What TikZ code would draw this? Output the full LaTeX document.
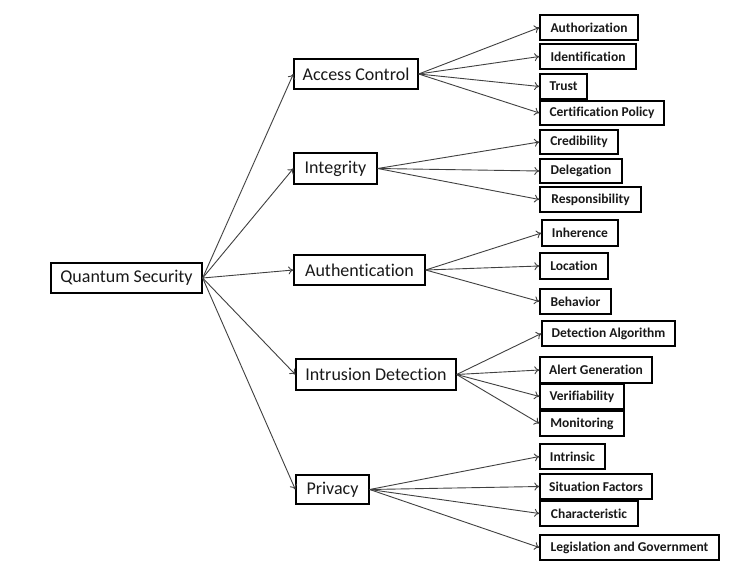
\documentclass[tikz,border=0pt]{standalone}
\usepackage{fontspec}
\setmainfont{Carlito}[Ligatures=NoCommon]
\usetikzlibrary{arrows.meta}
\begin{document}
\begin{tikzpicture}[x=1pt,y=-1pt,
  box/.style={draw=black,line width=1.3pt,rectangle,inner sep=0pt,font=\fontsize{18}{20}\selectfont,text=black!90},
  leaf/.style={draw=black,line width=1.3pt,rectangle,inner sep=0pt,minimum height=25pt,font=\bfseries\fontsize{13.5}{15}\selectfont,text=black!90},
  conn/.style={draw=black!75,line width=0.9pt,-{To[length=5pt,width=8pt]}}]
\useasboundingbox[fill=white] (0,0) rectangle (750,583);
% root
\node[box,minimum width=151pt,minimum height=30pt] (qs) at (126.5,278) {Quantum Security};
% level 1
\node[box,minimum width=124pt,minimum height=30pt] (ac) at (356,74) {Access Control};
\node[box,minimum width=83pt,minimum height=31pt] (in) at (335.5,168.5) {Integrity};
\node[box,minimum width=131pt,minimum height=30pt] (au) at (359.5,270) {Authentication};
\node[box,minimum width=160pt,minimum height=31pt] (id) at (376,374.5) {Intrusion Detection};
\node[box,minimum width=73pt,minimum height=29pt] (pr) at (332.5,489.5) {Privacy};
% leaves
\node[leaf,minimum width=98pt] (l1) at (589,27.5) {Authorization};
\node[leaf,minimum width=96pt] (l2) at (588,56.5) {Identification};
\node[leaf,minimum width=47pt] (l3) at (563.5,86.5) {Trust};
\node[leaf,minimum width=124pt,minimum height=24pt] (l4) at (602,113) {Certification Policy};
\node[leaf,minimum width=78pt,minimum height=24pt] (l5) at (579,142) {Credibility};
\node[leaf,minimum width=82pt,minimum height=24pt] (l6) at (581,171) {Delegation};
\node[leaf,minimum width=101pt] (l7) at (590.5,199.5) {Responsibility};
\node[leaf,minimum width=76pt,minimum height=26pt] (l8) at (580,233) {Inherence};
\node[leaf,minimum width=68pt,minimum height=26pt] (l9) at (574,266) {Location};
\node[leaf,minimum width=71pt] (l10) at (575.5,301.5) {Behavior};
\node[leaf,minimum width=133pt] (l11) at (608.5,333.5) {Detection Algorithm};
\node[leaf,minimum width=112pt,minimum height=26pt] (l12) at (596,370) {Alert Generation};
\node[leaf,minimum width=84pt] (l13) at (582,396.5) {Verifiability};
\node[leaf,minimum width=84pt] (l14) at (582,423.5) {Monitoring};
\node[leaf,minimum width=65pt] (l15) at (572.5,456.5) {Intrinsic};
\node[leaf,minimum width=112pt] (l16) at (596,486.5) {Situation Factors};
\node[leaf,minimum width=98pt] (l17) at (589,513.5) {Characteristic};
\node[leaf,minimum width=179pt] (l18) at (629.5,547.5) {Legislation and Government};
% connectors
\foreach \c in {ac,in,au,id,pr} \draw[conn] (qs.east) -- (\c.west);
\foreach \c in {l1,l2,l3,l4} \draw[conn] (ac.east) -- (\c.west);
\foreach \c in {l5,l6,l7} \draw[conn] (in.east) -- (\c.west);
\foreach \c in {l8,l9,l10} \draw[conn] (au.east) -- (\c.west);
\foreach \c in {l11,l12,l13,l14} \draw[conn] (id.east) -- (\c.west);
\foreach \c in {l15,l16,l17,l18} \draw[conn] (pr.east) -- (\c.west);
\end{tikzpicture}
\end{document}
